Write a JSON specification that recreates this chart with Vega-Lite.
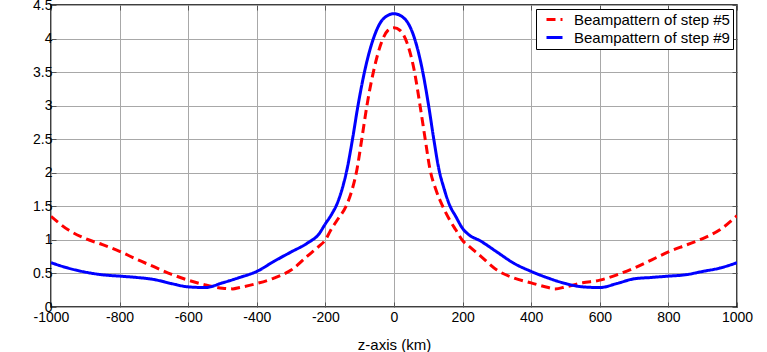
{
  "$schema": "https://vega.github.io/schema/vega-lite/v6.json",
  "width": 686,
  "height": 302,
  "padding": {"left": 51, "top": 5, "right": 30, "bottom": 45},
  "autosize": {"type": "none"},
  "background": "white",
  "config": {
    "font": "Liberation Sans",
    "view": {"stroke": "black", "strokeWidth": 1.5},
    "axis": {
      "domain": false,
      "grid": true,
      "gridColor": "#a8a8a8",
      "gridWidth": 1,
      "tickColor": "#555555",
      "tickSize": -5,
      "labelFont": "Liberation Sans",
      "labelFontSize": 14,
      "labelColor": "black",
      "titleFont": "Liberation Sans",
      "titleFontSize": 15,
      "titleFontWeight": "normal",
      "titleColor": "black"
    }
  },
  "data": {
    "values": [
      {"z": -1000, "v": 1.35, "s": "Beampattern of step #5"},
      {"z": -950, "v": 1.15, "s": "Beampattern of step #5"},
      {"z": -900, "v": 1.02, "s": "Beampattern of step #5"},
      {"z": -850, "v": 0.93, "s": "Beampattern of step #5"},
      {"z": -800, "v": 0.83, "s": "Beampattern of step #5"},
      {"z": -750, "v": 0.71, "s": "Beampattern of step #5"},
      {"z": -700, "v": 0.6, "s": "Beampattern of step #5"},
      {"z": -650, "v": 0.49, "s": "Beampattern of step #5"},
      {"z": -600, "v": 0.4, "s": "Beampattern of step #5"},
      {"z": -550, "v": 0.33, "s": "Beampattern of step #5"},
      {"z": -500, "v": 0.28, "s": "Beampattern of step #5"},
      {"z": -470, "v": 0.27, "s": "Beampattern of step #5"},
      {"z": -450, "v": 0.29, "s": "Beampattern of step #5"},
      {"z": -400, "v": 0.35, "s": "Beampattern of step #5"},
      {"z": -350, "v": 0.43, "s": "Beampattern of step #5"},
      {"z": -300, "v": 0.55, "s": "Beampattern of step #5"},
      {"z": -250, "v": 0.77, "s": "Beampattern of step #5"},
      {"z": -220, "v": 0.9, "s": "Beampattern of step #5"},
      {"z": -200, "v": 1.0, "s": "Beampattern of step #5"},
      {"z": -185, "v": 1.14, "s": "Beampattern of step #5"},
      {"z": -165, "v": 1.3, "s": "Beampattern of step #5"},
      {"z": -140, "v": 1.5, "s": "Beampattern of step #5"},
      {"z": -122, "v": 1.75, "s": "Beampattern of step #5"},
      {"z": -108, "v": 2.05, "s": "Beampattern of step #5"},
      {"z": -94, "v": 2.5, "s": "Beampattern of step #5"},
      {"z": -79, "v": 3.0, "s": "Beampattern of step #5"},
      {"z": -58, "v": 3.55, "s": "Beampattern of step #5"},
      {"z": -36, "v": 3.95, "s": "Beampattern of step #5"},
      {"z": -18, "v": 4.12, "s": "Beampattern of step #5"},
      {"z": 0, "v": 4.16, "s": "Beampattern of step #5"},
      {"z": 18, "v": 4.12, "s": "Beampattern of step #5"},
      {"z": 37, "v": 3.95, "s": "Beampattern of step #5"},
      {"z": 58, "v": 3.55, "s": "Beampattern of step #5"},
      {"z": 76, "v": 3.0, "s": "Beampattern of step #5"},
      {"z": 91, "v": 2.5, "s": "Beampattern of step #5"},
      {"z": 105, "v": 2.05, "s": "Beampattern of step #5"},
      {"z": 122, "v": 1.75, "s": "Beampattern of step #5"},
      {"z": 142, "v": 1.5, "s": "Beampattern of step #5"},
      {"z": 162, "v": 1.3, "s": "Beampattern of step #5"},
      {"z": 180, "v": 1.15, "s": "Beampattern of step #5"},
      {"z": 200, "v": 0.99, "s": "Beampattern of step #5"},
      {"z": 220, "v": 0.9, "s": "Beampattern of step #5"},
      {"z": 250, "v": 0.77, "s": "Beampattern of step #5"},
      {"z": 300, "v": 0.55, "s": "Beampattern of step #5"},
      {"z": 350, "v": 0.43, "s": "Beampattern of step #5"},
      {"z": 400, "v": 0.36, "s": "Beampattern of step #5"},
      {"z": 450, "v": 0.29, "s": "Beampattern of step #5"},
      {"z": 470, "v": 0.27, "s": "Beampattern of step #5"},
      {"z": 500, "v": 0.3, "s": "Beampattern of step #5"},
      {"z": 550, "v": 0.36, "s": "Beampattern of step #5"},
      {"z": 600, "v": 0.4, "s": "Beampattern of step #5"},
      {"z": 650, "v": 0.48, "s": "Beampattern of step #5"},
      {"z": 700, "v": 0.58, "s": "Beampattern of step #5"},
      {"z": 750, "v": 0.7, "s": "Beampattern of step #5"},
      {"z": 800, "v": 0.82, "s": "Beampattern of step #5"},
      {"z": 850, "v": 0.92, "s": "Beampattern of step #5"},
      {"z": 900, "v": 1.02, "s": "Beampattern of step #5"},
      {"z": 950, "v": 1.15, "s": "Beampattern of step #5"},
      {"z": 1000, "v": 1.36, "s": "Beampattern of step #5"},
      {"z": -1000, "v": 0.66, "s": "Beampattern of step #9"},
      {"z": -950, "v": 0.58, "s": "Beampattern of step #9"},
      {"z": -900, "v": 0.52, "s": "Beampattern of step #9"},
      {"z": -850, "v": 0.48, "s": "Beampattern of step #9"},
      {"z": -800, "v": 0.46, "s": "Beampattern of step #9"},
      {"z": -750, "v": 0.44, "s": "Beampattern of step #9"},
      {"z": -700, "v": 0.41, "s": "Beampattern of step #9"},
      {"z": -650, "v": 0.35, "s": "Beampattern of step #9"},
      {"z": -600, "v": 0.3, "s": "Beampattern of step #9"},
      {"z": -550, "v": 0.29, "s": "Beampattern of step #9"},
      {"z": -500, "v": 0.36, "s": "Beampattern of step #9"},
      {"z": -450, "v": 0.44, "s": "Beampattern of step #9"},
      {"z": -400, "v": 0.53, "s": "Beampattern of step #9"},
      {"z": -350, "v": 0.68, "s": "Beampattern of step #9"},
      {"z": -300, "v": 0.82, "s": "Beampattern of step #9"},
      {"z": -250, "v": 0.96, "s": "Beampattern of step #9"},
      {"z": -220, "v": 1.08, "s": "Beampattern of step #9"},
      {"z": -200, "v": 1.24, "s": "Beampattern of step #9"},
      {"z": -182, "v": 1.38, "s": "Beampattern of step #9"},
      {"z": -165, "v": 1.55, "s": "Beampattern of step #9"},
      {"z": -150, "v": 1.78, "s": "Beampattern of step #9"},
      {"z": -137, "v": 2.05, "s": "Beampattern of step #9"},
      {"z": -121, "v": 2.5, "s": "Beampattern of step #9"},
      {"z": -105, "v": 3.0, "s": "Beampattern of step #9"},
      {"z": -84, "v": 3.55, "s": "Beampattern of step #9"},
      {"z": -60, "v": 4.0, "s": "Beampattern of step #9"},
      {"z": -30, "v": 4.3, "s": "Beampattern of step #9"},
      {"z": 0, "v": 4.37, "s": "Beampattern of step #9"},
      {"z": 30, "v": 4.3, "s": "Beampattern of step #9"},
      {"z": 60, "v": 4.0, "s": "Beampattern of step #9"},
      {"z": 82, "v": 3.55, "s": "Beampattern of step #9"},
      {"z": 101, "v": 3.0, "s": "Beampattern of step #9"},
      {"z": 116, "v": 2.5, "s": "Beampattern of step #9"},
      {"z": 131, "v": 2.05, "s": "Beampattern of step #9"},
      {"z": 145, "v": 1.78, "s": "Beampattern of step #9"},
      {"z": 162, "v": 1.52, "s": "Beampattern of step #9"},
      {"z": 180, "v": 1.35, "s": "Beampattern of step #9"},
      {"z": 200, "v": 1.17, "s": "Beampattern of step #9"},
      {"z": 220, "v": 1.07, "s": "Beampattern of step #9"},
      {"z": 250, "v": 0.99, "s": "Beampattern of step #9"},
      {"z": 300, "v": 0.82, "s": "Beampattern of step #9"},
      {"z": 350, "v": 0.65, "s": "Beampattern of step #9"},
      {"z": 400, "v": 0.53, "s": "Beampattern of step #9"},
      {"z": 450, "v": 0.43, "s": "Beampattern of step #9"},
      {"z": 500, "v": 0.35, "s": "Beampattern of step #9"},
      {"z": 550, "v": 0.3, "s": "Beampattern of step #9"},
      {"z": 600, "v": 0.29, "s": "Beampattern of step #9"},
      {"z": 650, "v": 0.35, "s": "Beampattern of step #9"},
      {"z": 700, "v": 0.42, "s": "Beampattern of step #9"},
      {"z": 750, "v": 0.44, "s": "Beampattern of step #9"},
      {"z": 800, "v": 0.46, "s": "Beampattern of step #9"},
      {"z": 850, "v": 0.48, "s": "Beampattern of step #9"},
      {"z": 900, "v": 0.53, "s": "Beampattern of step #9"},
      {"z": 950, "v": 0.58, "s": "Beampattern of step #9"},
      {"z": 1000, "v": 0.66, "s": "Beampattern of step #9"}
    ]
  },
  "resolve": {"axis": {"x": "independent", "y": "independent"}},
  "layer": [
    {
      "mark": {"type": "line", "strokeWidth": 3, "interpolate": "monotone", "clip": true},
      "encoding": {
        "x": {
          "field": "z", "type": "quantitative",
          "scale": {"domain": [-1000, 1000], "nice": false},
          "axis": {"orient": "bottom", "values": [-1000, -800, -600, -400, -200, 0, 200, 400, 600, 800, 1000], "labelExpr": "'' + datum.value", "title": "z-axis  (km)", "titlePadding": 13, "labelPadding": 8, "labelFlush": false}
        },
        "y": {
          "field": "v", "type": "quantitative",
          "scale": {"domain": [0, 4.5], "nice": false},
          "axis": {"orient": "left", "values": [0, 0.5, 1, 1.5, 2, 2.5, 3, 3.5, 4, 4.5], "labelExpr": "'' + datum.value", "title": null, "labelPadding": 4, "labelFlush": false}
        },
        "color": {
          "field": "s", "type": "nominal",
          "scale": {"domain": ["Beampattern of step #5", "Beampattern of step #9"], "range": ["#ff0000", "#0000ff"]},
          "legend": {
            "title": null,
            "orient": "top-right",
            "offset": 4,
            "fillColor": "white",
            "strokeColor": "black",
            "padding": 3,
            "rowPadding": 2,
            "symbolType": "M-1.6,0L1.6,0",
            "symbolSize": 100,
            "symbolStrokeWidth": 3,
            "symbolOffset": 8,
            "labelFontSize": 15,
            "labelFont": "Liberation Sans",
            "labelColor": "black",
            "labelOffset": 12,
            "labelLimit": 300
          }
        },
        "strokeDash": {
          "field": "s", "type": "nominal",
          "scale": {"domain": ["Beampattern of step #5", "Beampattern of step #9"], "range": [[9, 5], [1, 0]]},
          "legend": null
        }
      }
    },
    {
      "mark": {"type": "line", "opacity": 0},
      "encoding": {
        "x": {"field": "z", "type": "quantitative", "axis": {"orient": "top", "values": [-1000, -800, -600, -400, -200, 0, 200, 400, 600, 800, 1000], "labels": false, "grid": false, "title": null}},
        "y": {"field": "v", "type": "quantitative", "axis": {"orient": "right", "values": [0, 0.5, 1, 1.5, 2, 2.5, 3, 3.5, 4, 4.5], "labels": false, "grid": false, "title": null}}
      }
    }
  ]
}
